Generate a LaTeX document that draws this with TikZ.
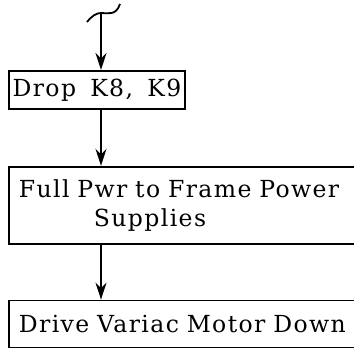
\documentclass[tikz,border=0pt]{standalone}
\usepackage{fontspec}
\setmainfont[LetterSpace=6,WordSpace=1.6]{DejaVu Serif}
\usetikzlibrary{arrows.meta,positioning}

\begin{document}
\begin{tikzpicture}[
  x=1pt, y=-1pt,
  block/.style={
    rectangle,
    draw=black,
    line width=1.8pt,
    inner xsep=10pt,
    inner ysep=2pt,
    font=\fontsize{23.5}{29}\selectfont,
    anchor=north west
  },
  flow/.style={-{Stealth[length=17pt,width=11pt]}, line width=1.8pt}
]
\useasboundingbox (0,0) rectangle (354,349);

\coordinate (entry) at (101,13);

\node[block, minimum width=176pt, minimum height=38pt, inner xsep=1pt] (drop) at (8,70) {Drop K8, K9};
\node[block, minimum width=350pt, minimum height=77pt, text width=336pt, align=left,
  below=56pt of drop.south west, anchor=north west] (pwr) {Full Pwr to Frame Power\\\hspace*{75pt}Supplies};
\node[block, minimum width=350pt, minimum height=47pt, text width=336pt, align=left,
  below=55pt of pwr.south west, anchor=north west] (motor) {Drive Variac Motor Down};

\draw[line width=1.8pt] (87,22) .. controls (92,16) and (96,13) .. (entry)
  .. controls (108,13) and (116,16) .. (120,4);
\draw[flow] (entry) -- (entry |- drop.north);
\draw[flow] (drop.south -| entry) -- (pwr.north -| entry);
\draw[flow] (pwr.south -| entry) -- (motor.north -| entry);

\end{tikzpicture}
\end{document}
